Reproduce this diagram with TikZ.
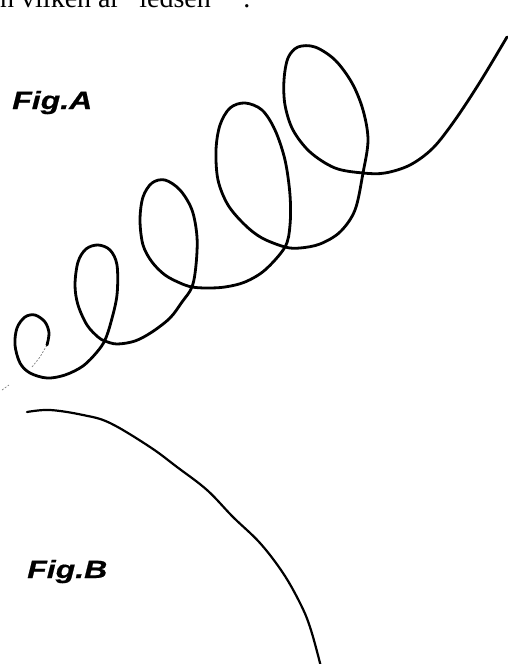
\documentclass[tikz,border=0pt]{standalone}
\usepackage{fontspec}
\setmainfont{Liberation Serif}
\newfontfamily\figfont{Liberation Sans}[BoldItalicFeatures={FakeBold=0.6}]
\usepackage{tikz}
\usetikzlibrary{positioning}

\begin{document}
\begin{tikzpicture}[
    x=1pt, y=-1pt,
    coil/.style={line width=2.8pt, line join=round, line cap=round},
    cord/.style={line width=2.2pt, line cap=round},
    faint/.style={gray, line width=0.7pt, dash pattern=on 2pt off 1.5pt},
    figlabel/.style={font=\figfont\fontsize{25}{30}\selectfont\bfseries\itshape,
        inner sep=0pt, anchor=base west, xscale=1.28, transform shape}
]
\useasboundingbox (0,0) rectangle (508,664);

% cut-off text line at the top
\node[anchor=base west, inner sep=0pt, font=\fontsize{28}{32}\selectfont] (heading) at (0,7)
    {n vilken är ”ledsen”\hspace{20pt}.};

% FIG A: the coiled cord
\node[figlabel] (figA) at (12,109) {Fig.A};

\draw[faint] (32,367) -- (40,357) -- (47,345);
\draw[faint] (2,390) -- (9,385);
\draw[coil] plot[smooth, tension=0.55] coordinates {
    (47,345) (49,333) (45,322) (35,315) (25,317) (17,328) (15,345) (20,363)
    (30,373) (47,378) (65,375) (83,366) (97,352) (105,340)
    (111,322) (117,295) (117,265) (110,250) (98,245) (86,249) (78,262)
    (75,285) (78,305) (87,325) (98,337) (105,341) (117,344) (135,341)
    (152,332) (170,318) (182,302) (192,287)
    (196,265) (197,237) (192,210) (180,190) (165,180) (152,183) (143,197)
    (140,220) (143,245) (152,262) (165,275) (180,283) (192,287) (207,288)
    (225,287) (245,282) (265,270) (285,247)
    (290,225) (290,195) (285,160) (275,130) (262,110) (245,103) (230,108)
    (220,125) (216,150) (218,180) (228,205) (245,225) (262,238) (285,247)
    (300,248) (320,244) (340,232) (355,210) (363,173)
    (368,140) (363,110) (352,83) (335,60) (315,47) (298,47) (288,58)
    (284,80) (285,105) (293,130) (310,152) (335,168) (363,173)
    (385,173) (410,165) (433,148) (455,120) (480,82) (507,37)};

% FIG B: the straight cord
\node[figlabel] (figB) at (27,578) {Fig.B};

\draw[cord] plot[smooth, tension=0.6] coordinates {
    (27,412) (50,410) (83,415) (110,423) (150,447) (177,467) (207,490)
    (233,517) (260,543) (283,573) (300,603) (310,627) (320,663) (321,670)};

\end{tikzpicture}
\end{document}
